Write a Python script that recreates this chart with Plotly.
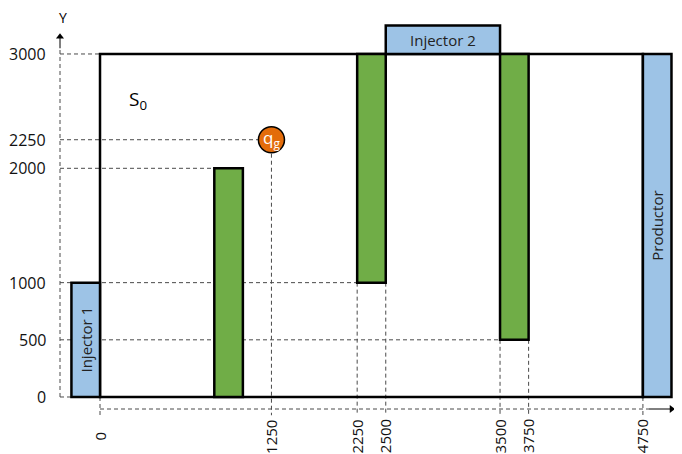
import plotly.graph_objects as go

# ---- data ----
x_tick_pos = [0, 1500, 2250, 2500, 3500, 3750, 4750]
x_tick_text = ["0", "1250", "2250", "2500", "3500", "3750", "4750"]
y_ticks = [0, 500, 1000, 2000, 2250, 3000]

domain_x = [0, 4750]
domain_y = [0, 3000]

green_x0 = [1000, 2250, 3500]
green_x1 = [1250, 2500, 3750]
green_y0 = [0, 1000, 500]
green_y1 = [2000, 3000, 3000]

well_names = ["Injector 1", "Injector 2", "Productor"]
well_x0 = [-250, 2500, 4750]
well_x1 = [0, 3500, 5000]
well_y0 = [0, 3000, 0]
well_y1 = [1000, 3250, 3000]
well_angle = [-90, 0, -90]

qg_x = 1500
qg_y = 2250

axis_x = -350      # dashed y-axis position
axis_y = -105      # dashed x-axis position

BLUE = "#9DC3E6"
GREEN = "#70AD47"
ORANGE = "#E36C0A"
DASH = "#4a4a4a"
FONT = "Open Sans"

fig = go.Figure()
shapes = []
ann = []

def dline(x0, y0, x1, y1):
    shapes.append(dict(type="line", xref="x", yref="y", x0=x0, y0=y0, x1=x1, y1=y1,
                       line=dict(color=DASH, width=1, dash="4px,3px"), layer="below"))

# horizontal guides
dline(axis_x, 3000, 0, 3000)
dline(axis_x, qg_y, qg_x - 110, qg_y)
dline(axis_x, 2000, green_x0[0], 2000)
dline(axis_x, 1000, green_x0[1], 1000)
dline(axis_x, 500, green_x0[2], 500)
dline(axis_x, 0, well_x0[0], 0)
# vertical guides
bottom = -160
dline(0, 0, 0, bottom)
dline(qg_x, qg_y, qg_x, bottom)
dline(2250, 1000, 2250, bottom)
dline(2500, 1000, 2500, bottom)
dline(3500, 500, 3500, bottom)
dline(3750, 500, 3750, bottom)
dline(4750, 0, 4750, bottom)
# dashed axes
dline(axis_x, 0, axis_x, 3050)
dline(0, axis_y, 4800, axis_y)
# solid ends near arrow heads
shapes.append(dict(type="line", xref="x", yref="y", x0=axis_x, y0=3050, x1=axis_x, y1=3140,
                   line=dict(color="black", width=1)))
shapes.append(dict(type="line", xref="x", yref="y", x0=4800, y0=axis_y, x1=4990, y1=axis_y,
                   line=dict(color="black", width=1)))

# main reservoir box
shapes.append(dict(type="rect", xref="x", yref="y", x0=domain_x[0], x1=domain_x[1],
                   y0=domain_y[0], y1=domain_y[1], line=dict(color="black", width=2.5)))
# green bars
for a, b, c, d in zip(green_x0, green_x1, green_y0, green_y1):
    shapes.append(dict(type="rect", xref="x", yref="y", x0=a, x1=b, y0=c, y1=d,
                       fillcolor=GREEN, line=dict(color="black", width=2.5)))
# wells
for n, a, b, c, d, ang in zip(well_names, well_x0, well_x1, well_y0, well_y1, well_angle):
    shapes.append(dict(type="rect", xref="x", yref="y", x0=a, x1=b, y0=c, y1=d,
                       fillcolor=BLUE, line=dict(color="black", width=2.5)))
    ann.append(dict(x=(a + b) / 2, y=(c + d) / 2, xref="x", yref="y", text=n,
                    textangle=ang, showarrow=False, font=dict(family=FONT, size=15, color="#222")))
# qg circle
r = 114
shapes.append(dict(type="circle", xref="x", yref="y", x0=qg_x - r, x1=qg_x + r,
                   y0=qg_y - r, y1=qg_y + r, fillcolor=ORANGE, line=dict(color="black", width=1.5)))
ann.append(dict(x=qg_x, y=qg_y + 15, xref="x", yref="y", text="q<sub>g</sub>", showarrow=False,
                font=dict(family=FONT, size=17, color="white")))

# S0 label
ann.append(dict(x=330, y=2600, xref="x", yref="y", text="S<sub>0</sub>", showarrow=False,
                font=dict(family=FONT, size=19, color="black")))
# Y label
ann.append(dict(x=axis_x + 25, y=3320, xref="x", yref="y", text="Y", showarrow=False,
                font=dict(family=FONT, size=14, color="black")))

# arrow heads as markers
fig.add_trace(go.Scatter(x=[axis_x], y=[3150], mode="markers", hoverinfo="skip",
                         marker=dict(symbol="triangle-up", size=7, color="black")))
fig.add_trace(go.Scatter(x=[5000], y=[axis_y], mode="markers", hoverinfo="skip",
                         marker=dict(symbol="triangle-right", size=7, color="black")))

# tick labels
for v in y_ticks:
    ann.append(dict(x=-455, y=v, xref="x", yref="y", text=str(v), xanchor="right",
                    showarrow=False, font=dict(family=FONT, size=16, color="#111")))
for p, t in zip(x_tick_pos, x_tick_text):
    ann.append(dict(x=p, y=-345, xref="x", yref="y", text=t, textangle=-90,
                    showarrow=False, font=dict(family=FONT, size=15, color="#111")))

fig.update_layout(
    width=674, height=446, autosize=False,
    margin=dict(l=0, r=0, t=0, b=0),
    paper_bgcolor="white", plot_bgcolor="white",
    xaxis=dict(range=[-805, 5092], visible=False, fixedrange=True),
    yaxis=dict(range=[-498.6, 3402], visible=False, fixedrange=True),
    shapes=shapes, annotations=ann, showlegend=False,
)
fig.write_html("out.html")
